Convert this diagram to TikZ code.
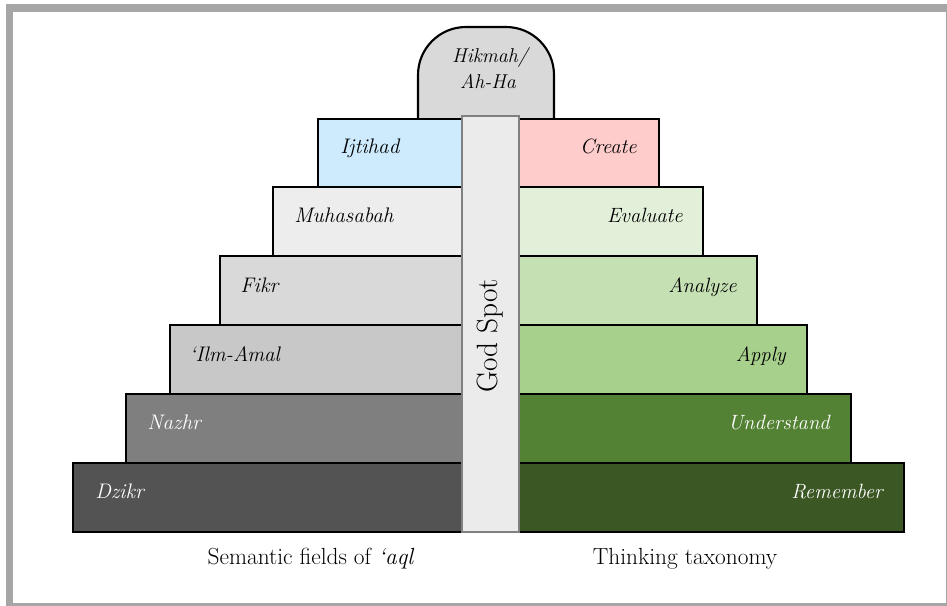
\documentclass[tikz,border=0pt]{standalone}
\usepackage{fontspec}
\begin{document}
\begin{tikzpicture}[x=0.75pt,y=-0.75pt,
  lvl/.style={draw=black,line width=1.6pt},
  ltxt/.style={anchor=base west,inner sep=0pt,font=\fontsize{15.8}{18}\selectfont\itshape},
  rtxt/.style={anchor=base east,inner sep=0pt,font=\fontsize{15.5}{18}\selectfont\itshape},
  captxt/.style={anchor=base,inner sep=0pt,font=\fontsize{17.5}{20}\selectfont}]
\useasboundingbox (0,0) rectangle (947,606);
% frame
\fill[white] (0,0) rectangle (947,606);
\fill[gray!70] (6,4) rectangle (947,611);
\fill[white] (13,12) rectangle (945.5,603);
\definecolor{cIj}{HTML}{CDEBFD}
\definecolor{cMu}{HTML}{EDEDED}
\definecolor{cFi}{HTML}{D9D9D9}
\definecolor{cIl}{HTML}{C8C8C8}
\definecolor{cNa}{HTML}{7F7F7F}
\definecolor{cDz}{HTML}{535353}
\definecolor{cCr}{HTML}{FFCCCC}
\definecolor{cEv}{HTML}{E2EFD9}
\definecolor{cAn}{HTML}{C5E0B3}
\definecolor{cAp}{HTML}{A8D08D}
\definecolor{cUn}{HTML}{548235}
\definecolor{cRe}{HTML}{3A5724}
\definecolor{cGod}{HTML}{EBEBEB}
% tombstone
\draw[lvl,fill=cFi,rounded corners=36pt] (418,119) -- (418,27) -- (554,27) -- (554,119);
% left levels
\draw[lvl,fill=cIj] (318,119) rectangle (490,187);
\draw[lvl,fill=cMu] (273,187) rectangle (490,256);
\draw[lvl,fill=cFi] (220,256) rectangle (490,325);
\draw[lvl,fill=cIl] (170,325) rectangle (490,394);
\draw[lvl,fill=cNa] (126,394) rectangle (490,463);
\draw[lvl,fill=cDz] (73,463) rectangle (490,532);
% right levels
\draw[lvl,fill=cCr] (490,119) rectangle (659,187);
\draw[lvl,fill=cEv] (490,187) rectangle (703,256);
\draw[lvl,fill=cAn] (490,256) rectangle (757,325);
\draw[lvl,fill=cAp] (490,325) rectangle (807,394);
\draw[lvl,fill=cUn] (490,394) rectangle (851,463);
\draw[lvl,fill=cRe] (490,463) rectangle (904,532);
% god spot
\draw[draw=gray,line width=1pt,fill=cGod] (462,116) rectangle (519,532);
\node[anchor=base west,inner sep=0pt,rotate=90,font=\fontsize{22}{24}\selectfont] (god) at (497,393) {God Spot};
% texts
\node[anchor=base,inner sep=0pt,font=\fontsize{15}{17}\selectfont\itshape] (hik1) at (490,63) {Hikmah/};
\node[anchor=base,inner sep=0pt,font=\fontsize{15}{17}\selectfont\itshape] (hik2) at (488,89) {Ah-Ha};
\node[ltxt] (ij) at (340,154) {Ijtihad};
\node[ltxt] (mu) at (294,223) {Muhasabah};
\node[ltxt] (fi) at (240,292) {Fikr};
\node[ltxt] (il) at (189,361) {`Ilm-Amal};
\node[ltxt,text=white] (na) at (147,429) {Nazhr};
\node[ltxt,text=white] (dz) at (95,498) {Dzikr};
\node[rtxt] (cr) at (637,154) {Create};
\node[rtxt] (ev) at (683,223) {Evaluate};
\node[rtxt] (an) at (737,292) {Analyze};
\node[rtxt] (ap) at (786,361) {Apply};
\node[rtxt,text=white] (un) at (830,429) {Understand};
\node[rtxt,text=white] (re) at (883,498) {Remember};
\node[captxt] (capl) at (311,564) {Semantic fields of \textit{`aql}};
\node[captxt] (capr) at (685,564) {Thinking taxonomy};
\end{tikzpicture}
\end{document}
